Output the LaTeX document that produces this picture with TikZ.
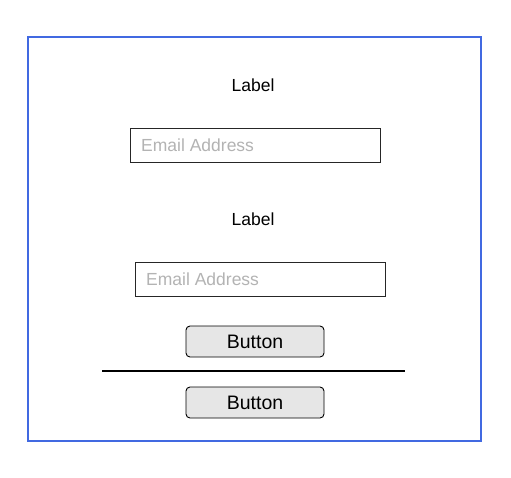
\documentclass[tikz,border=0pt]{standalone}
\usepackage{fontspec}
\setmainfont{Liberation Sans}
\definecolor{frameblue}{HTML}{4169E1}
\definecolor{hint}{HTML}{B3B3B3}
\definecolor{btnfill}{HTML}{E6E6E6}
\begin{document}
\begin{tikzpicture}[x=1pt,y=-1pt,
  lbl/.style={font=\fontsize{17.5}{20}\selectfont, text=black},
  field/.style={draw=black!85, line width=1pt, minimum width=250pt, minimum height=34pt, inner sep=0pt},
  hinttext/.style={font=\fontsize{17.5}{20}\selectfont, text=hint, anchor=west, inner sep=0pt},
  btn/.style={draw=black, line width=0.9pt, fill=btnfill, rounded corners=4pt, minimum width=138pt, minimum height=31pt, inner sep=0pt, font=\fontsize{19.5}{22}\selectfont}]
\useasboundingbox (0,0) rectangle (511,477);
\fill[white] (0,0) rectangle (511,477);
\node[draw=frameblue, line width=2pt, minimum width=453pt, minimum height=404pt, inner sep=0pt] (frame) at (254.5,239) {};
\node[lbl] (l1) at (253,85) {Label};
\node[field] (f1) at (255,145) {};
\node[hinttext] (h1) at (141,145) {Email Address};
\node[lbl] (l2) at (253,219) {Label};
\node[field] (f2) at (260,279) {};
\node[hinttext] (h2) at (146,279) {Email Address};
\node[btn] (b1) at (255,341.5) {Button};
\coordinate (s1) at (102,371);
\coordinate (s2) at (405,371);
\draw[line width=2pt] (s1) -- (s2);
\node[btn] (b2) at (255,402.5) {Button};
\end{tikzpicture}
\end{document}
